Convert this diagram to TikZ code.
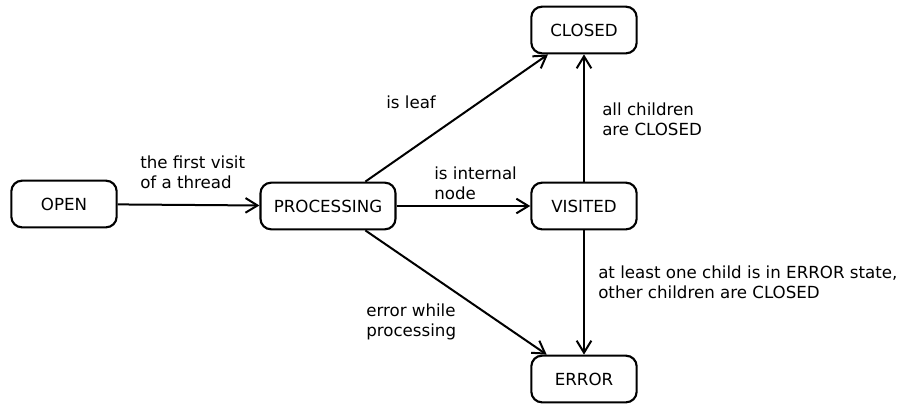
\documentclass[tikz,border=0pt]{standalone}
\usepackage{fontspec}
\setmainfont{DejaVu Sans}
\usetikzlibrary{arrows.meta}

\tikzset{
  state/.style = {draw, line width=1.6pt, rounded corners=8pt,
                  minimum width=79pt, minimum height=35pt, inner xsep=10pt},
  trans/.style = {line width=1.5pt, -{Straight Barb[length=9pt,width=11pt,line width=1.5pt]}},
  lbl/.style   = {inner sep=0pt, anchor=west, align=left}
}

\begin{document}
\begin{tikzpicture}[x=0.75pt, y=-0.75pt, font=\fontsize{12.5}{15}\selectfont]
  \useasboundingbox (0, 0) rectangle (904, 405);

  \node[state] (open)    at (64, 204)  {OPEN};
  \node[state] (proc)    at (328, 206) {PROCESSING};
  \node[state] (closed)  at (584, 30)  {CLOSED};
  \node[state] (visited) at (584, 206) {VISITED};
  \node[state] (error)   at (584, 379) {ERROR};

  \draw[trans] (open) -- (proc);
  \draw[trans] (proc) -- (visited);
  \draw[trans] ([xshift=28pt]proc.north) -- ([xshift=-27pt]closed.south);
  \draw[trans] ([xshift=28pt]proc.south) -- ([xshift=-28pt]error.north);
  \draw[trans] (visited) -- (closed);
  \draw[trans] (visited) -- (error);

  \node[lbl] (lfirst)    at (140, 172) {the first visit\\of a thread};
  \node[lbl] (lleaf)     at (386, 102) {is leaf};
  \node[lbl] (linternal) at (434, 183) {is internal\\node};
  \node[lbl] (lchildren) at (602, 119) {all children\\are CLOSED};
  \node[lbl] (lerrstate) at (598, 282) {at least one child is in ERROR state,\\other children are CLOSED};
  \node[lbl] (lwhile)    at (366, 322) {error while\\processing};
\end{tikzpicture}
\end{document}
